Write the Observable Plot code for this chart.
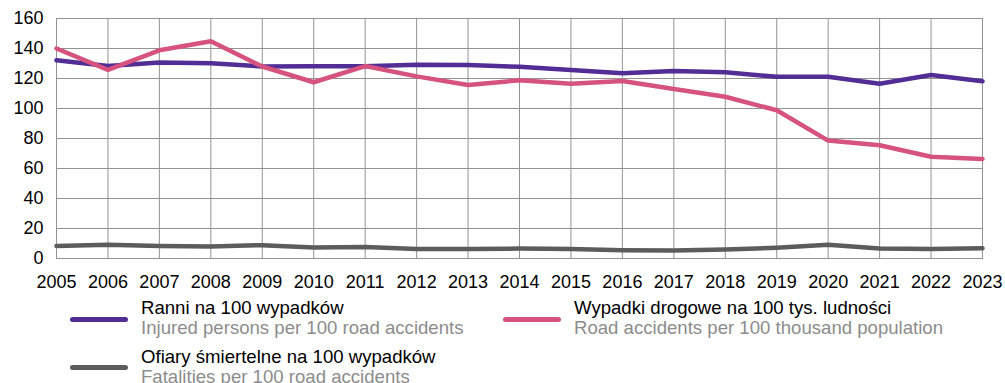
<!DOCTYPE html>
<html>
<head>
<meta charset="utf-8">
<script src="https://cdn.jsdelivr.net/npm/d3@7"></script>
<script src="https://cdn.jsdelivr.net/npm/@observablehq/plot@0.6"></script>
<style>
  html, body { margin: 0; padding: 0; background: #fff; overflow: hidden; }
  #wrap { position: relative; width: 1005px; height: 383px; font-family: "Liberation Sans", Arial, sans-serif; }
  .sw { position: absolute; width: 58px; height: 5px; border-radius: 3px; }
  .lt { position: absolute; font-size: 18.6px; line-height: 20px; white-space: nowrap; }
  .lt .pl { color: #000; }
  .lt .en { color: #8c8c8c; }
</style>
</head>
<body>
<div id="wrap"></div>
<script>
const years = [2005,2006,2007,2008,2009,2010,2011,2012,2013,2014,2015,2016,2017,2018,2019,2020,2021,2022,2023];
const ranni   = [132.2,128.4,130.7,130.2,128.0,128.2,128.2,129.1,129.0,127.8,125.6,123.5,125.0,124.2,121.1,121.2,116.5,122.3,118.2];
const wypadki = [140.0,125.8,138.8,144.8,128.0,117.5,128.3,121.4,115.7,118.8,116.5,118.3,113.0,107.8,98.8,78.6,75.5,67.8,66.4];
const ofiary  = [8.4,9.2,8.4,8.0,8.9,7.3,7.6,6.4,6.4,6.6,6.4,5.5,5.3,6.0,7.2,9.1,6.6,6.4,6.9];
const yTicks = [0,20,40,60,80,100,120,140,160];
const seriesNames = ["Ranni na 100 wypadków", "Wypadki drogowe na 100 tys. ludności", "Ofiary śmiertelne na 100 wypadków"];
const seriesEn = ["Injured persons per 100 road accidents", "Road accidents per 100 thousand population", "Fatalities per 100 road accidents"];
const seriesColors = ["#512d95", "#d6527f", "#5c5c5c"];
const seriesValues = [ranni, wypadki, ofiary];

const rows = [];
seriesValues.forEach((vals, s) => vals.forEach((v, i) => rows.push({year: years[i], value: v, series: seriesNames[s]})));

const chart = Plot.plot({
  width: 1005,
  height: 296,
  marginTop: 18,
  marginBottom: 38,
  marginLeft: 56,
  marginRight: 23,
  style: { fontFamily: "Liberation Sans, Arial, sans-serif", fontSize: "18px", color: "#000", background: "#fff" },
  x: { type: "linear", domain: [2005, 2023] },
  y: { domain: [0, 160] },
  color: { domain: seriesNames, range: seriesColors },
  marks: [
    Plot.gridX(years, { stroke: "#939393", strokeOpacity: 1, strokeWidth: 1 }),
    Plot.gridY(yTicks, { stroke: "#939393", strokeOpacity: 1, strokeWidth: 1 }),
    Plot.frame({ stroke: "#939393", strokeWidth: 1 }),
    Plot.axisX(years, { tickSize: 0, tickPadding: 17, tickFormat: d => String(d), fontSize: 18, label: null }),
    Plot.axisY(yTicks, { tickSize: 0, tickPadding: 13, fontSize: 18, label: null }),
    Plot.line(rows, { x: "year", y: "value", z: "series", stroke: "series", strokeWidth: 4.5, strokeLinejoin: "round", strokeLinecap: "round" })
  ]
});

const wrap = document.getElementById("wrap");
wrap.appendChild(chart);

const legendPos = [
  { sx: 70, sy: 317, tx: 141, ty: 298 },
  { sx: 503, sy: 317, tx: 574, ty: 298 },
  { sx: 70, sy: 365, tx: 141, ty: 346.5 }
];
seriesNames.forEach((name, i) => {
  const p = legendPos[i];
  const sw = document.createElement("div");
  sw.className = "sw";
  sw.style.left = p.sx + "px";
  sw.style.top = p.sy + "px";
  sw.style.background = seriesColors[i];
  wrap.appendChild(sw);
  const t = document.createElement("div");
  t.className = "lt";
  t.style.left = p.tx + "px";
  t.style.top = p.ty + "px";
  t.innerHTML = `<div class="pl">${name}</div><div class="en">${seriesEn[i]}</div>`;
  wrap.appendChild(t);
});
</script>
</body>
</html>
